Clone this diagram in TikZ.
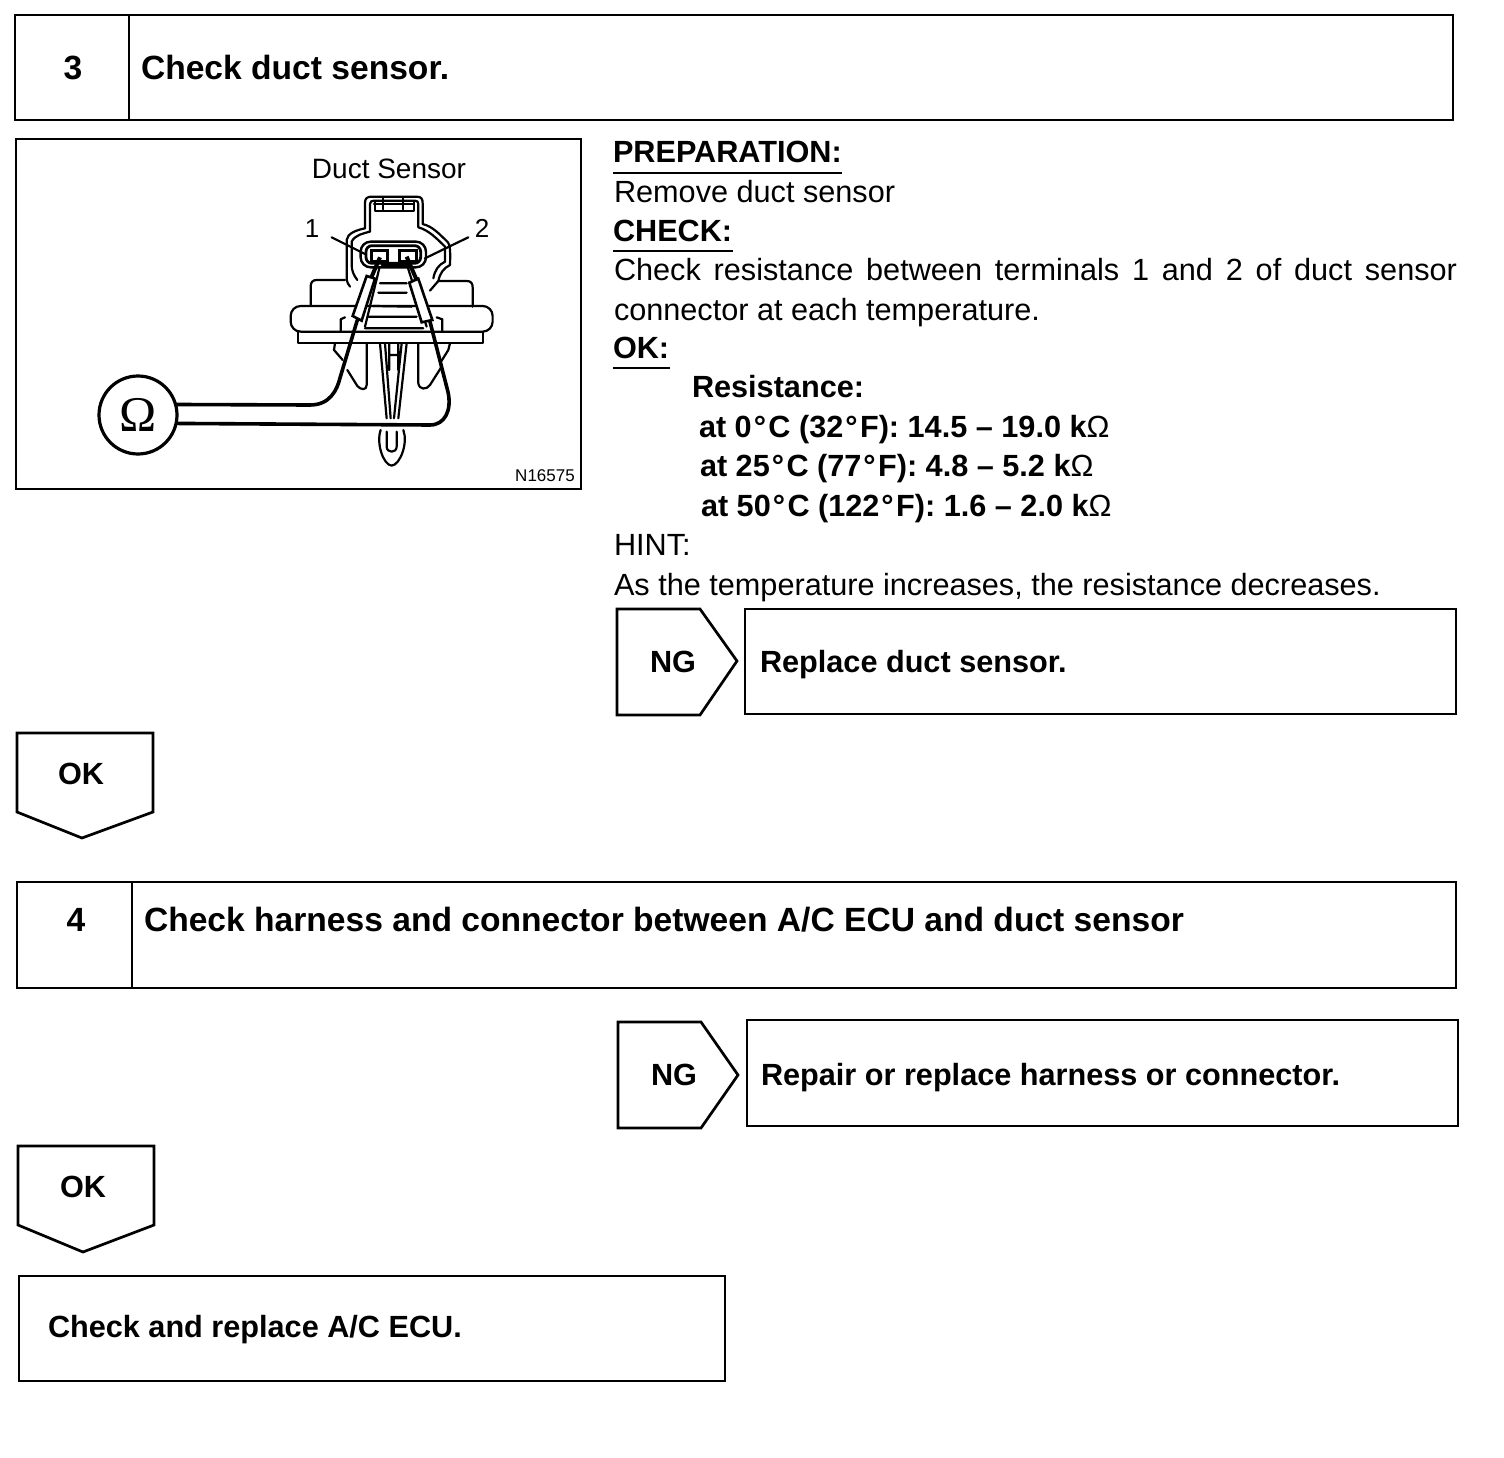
\documentclass[tikz,border=0pt]{standalone}
\usepackage{fontspec}
\setmainfont{Liberation Sans}
\newfontfamily\omegafont{Liberation Serif}
\newcommand{\szA}{\fontsize{30.65}{36}\selectfont}
\newcommand{\szB}{\fontsize{33.6}{40}\selectfont\bfseries}
\newcommand{\dg}{\kern2pt°\kern2.4pt}
\tikzset{
  frame/.style={draw=black,line width=2.7pt,line join=miter},
  txt/.style={anchor=base west,inner sep=0pt,outer sep=0pt,font=\szA,text=black},
  btxt/.style={txt,font=\szA\bfseries},
  htxt/.style={txt,font=\szB},
  rule/.style={line width=2pt},
  thin line/.style={line width=2.2pt,line cap=round,line join=round},
  wire/.style={line width=3.6pt,line cap=round,line join=round},
}
\begin{document}
\begin{tikzpicture}[x=1pt,y=-1pt]
\useasboundingbox (0,0) rectangle (1504,1458);
\fill[white] (0,0) rectangle (1504,1458);
% step 3
\draw[frame] (15,15) rectangle (1453,120);
\draw[frame] (129,15) -- (129,120);
\node[htxt,anchor=base] (n3) at (73,80) {3};
\node[htxt] (t3) at (141,80) {Check duct sensor.};
% figure
\draw[frame] (16,139) rectangle (581,489);
\node[txt,anchor=base,font=\fontsize{28}{34}\selectfont] (ds) at (389,179) {Duct Sensor};
\node[txt,anchor=base,font=\fontsize{26}{32}\selectfont] (l1) at (312,237) {1};
\node[txt,anchor=base,font=\fontsize{26}{32}\selectfont] (l2) at (482,237) {2};
\node[txt,anchor=base,font=\fontsize{17}{20}\selectfont] (code) at (545,481) {N16575};
\node[circle,draw,line width=3.2pt,minimum size=78pt,inner sep=0pt,font=\omegafont\fontsize{50}{54}\selectfont] (omega) at (138,415) {Ω};
\begin{scope}[xshift=270pt,yshift=-180pt,x=0.3333pt,y=-0.3333pt]
  \draw[thin line] (240,320) .. controls (228,305) and (230,295) .. (230,285) -- (230,180) .. controls (232,160) and (260,150) .. (285,145) -- (285,68) .. controls (285,55) and (292,50) .. (305,50) -- (440,50) .. controls (455,50) and (458,58) .. (458,70) -- (458,132) .. controls (490,140) and (510,165) .. (525,178) .. controls (540,190) and (542,200) .. (540,255) .. controls (520,265) and (510,280) .. (505,303) -- (480,332);
  \draw[thin line] (262,300) .. controls (250,285) and (245,270) .. (245,255) -- (245,185) .. controls (255,165) and (280,160) .. (300,155) -- (300,72) .. controls (300,65) and (305,62) .. (312,62) -- (435,62) .. controls (442,62) and (445,66) .. (445,72) -- (445,142) .. controls (475,150) and (500,175) .. (525,200) -- (525,245) .. controls (505,255) and (495,270) .. (490,295);
  \draw[thin line] (340,52) -- (340,88) (400,52) -- (400,88) (315,66) -- (315,92) -- (432,92) -- (432,66) (312,72) -- (432,72);
  \draw[line width=2.4pt,rounded corners=10pt] (272,185) rectangle (468,262);
  \draw[line width=2.8pt,rounded corners=6pt] (288,197) rectangle (452,250);
  \draw[line width=3.6pt,fill=white] (305,212) rectangle (352,244);
  \draw[line width=3.6pt,fill=white] (388,212) rectangle (440,244);
  \draw[thin line] (335,255) -- (420,255);
  \draw[thin line] (225,300) -- (140,300) .. controls (127,300) and (122,308) .. (122,320) -- (122,378);
  \draw[thin line] (505,303) -- (590,303) .. controls (603,303) and (608,310) .. (608,322) -- (608,380);
  \draw[thin line,rounded corners=10pt] (62,378) rectangle (668,455);
  \draw[thin line] (85,455) -- (85,488) -- (640,488) -- (640,455);
  \draw[thin line] (225,412) -- (212,418) -- (212,452) (500,412) -- (517,418) -- (517,452);
  \draw[thin line] (330,310) -- (410,310) (325,338) -- (410,338) (310,378) -- (425,380) (295,410) -- (440,410) (285,445) -- (460,445);
  \draw[thin line] (328,265) -- (285,440) (412,258) -- (470,440);
  % clips
  \draw[thin line] (195,490) -- (192,510) -- (218,540) (232,570) -- (262,618) .. controls (272,630) and (290,632) .. (290,615) -- (290,490);
  \draw[thin line] (445,490) -- (445,610) .. controls (448,630) and (470,630) .. (480,615) -- (515,560) (540,490) -- (535,510) -- (510,550);
  % stem
  \draw[thin line] (330,490) -- (350,715) (345,490) -- (362,715) (410,490) -- (385,715) (395,490) -- (372,715) (358,490) -- (358,570) (385,490) -- (385,570) (358,525) -- (385,525);
  \draw[thin line] (332,750) .. controls (318,790) and (340,855) .. (365,857) .. controls (390,855) and (415,790) .. (400,750);
  \draw[thin line] (350,755) -- (350,800) .. controls (350,820) and (380,820) .. (380,800) -- (380,755);
  % probes
  \draw[line width=2.6pt,fill=white] (290,288) -- (315,296) -- (275,422) -- (248,408) -- cycle;
  \draw[line width=2.6pt,fill=white] (418,308) -- (445,296) -- (487,420) -- (455,427) -- cycle;
  \draw[line width=4pt] (330,232) -- (305,290) (410,230) -- (440,300);
  % leader lines
  \draw[thin line] (185,172) -- (285,222) (595,172) -- (465,235);
  \coordinate (p1) at (262,420);
  \coordinate (p2) at (480,425);
\end{scope}
\draw[wire] (omega.15) -- (310,405) .. controls (330,405) and (337,390) .. (340,378) -- (p1);
\draw[wire] (omega.-12) -- (430,425) .. controls (445,425) and (452,410) .. (448,392) -- (p2);
% text right
\node[btxt] (prep) at (613,163) {PREPARATION:};
\draw[rule] (613,173) -- (842,173);
\node[txt] (rem) at (614,203) {Remove duct sensor};
\node[btxt] (chk) at (613,241) {CHECK:};
\draw[rule] (613,251) -- (733,251);
\node[txt] (c1) at (614,280) {\hbox to 843pt{Check\hfill resistance\hfill between\hfill terminals\hfill 1\hfill and\hfill 2\hfill of\hfill duct\hfill sensor}};
\node[txt] (c2) at (614,320) {connector at each temperature.};
\node[btxt] (okh) at (613,358) {OK:};
\draw[rule] (613,368) -- (670,368);
\node[btxt] (res) at (692,397) {Resistance:};
\node[btxt] (r0) at (699,437) {at 0\dg C (32\dg F): 14.5 – 19.0 k{\mdseries Ω}};
\node[btxt] (r1) at (700,476) {at 25\dg C (77\dg F): 4.8 – 5.2 k{\mdseries Ω}};
\node[btxt] (r2) at (701,516) {at 50\dg C (122\dg F): 1.6 – 2.0 k{\mdseries Ω}};
\node[txt] (hint) at (614,555) {HINT:};
\node[txt] (h2) at (614,595) {As the temperature increases, the resistance decreases.};
% NG 1
\draw[frame] (617,609) -- (700,609) -- (737,661) -- (700,715) -- (617,715) -- cycle;
\node[btxt] (ng1) at (650,672) {NG};
\draw[frame] (745,609) rectangle (1456,714);
\node[btxt] (a1) at (760,672) {Replace duct sensor.};
% OK 1
\draw[frame] (17,733) -- (153,733) -- (153,812) -- (82,838) -- (17,812) -- cycle;
\node[btxt] (ok1) at (58,784) {OK};
% step 4
\draw[frame] (17,882) rectangle (1456,988);
\draw[frame] (132,882) -- (132,988);
\node[htxt,anchor=base] (n4) at (76,931) {4};
\node[htxt] (t4) at (144,931) {Check harness and connector between A/C ECU and duct sensor};
% NG 2
\draw[frame] (618,1022) -- (701,1022) -- (738,1075) -- (701,1128) -- (618,1128) -- cycle;
\node[btxt] (ng2) at (651,1085) {NG};
\draw[frame] (747,1020) rectangle (1458,1126);
\node[btxt] (a2) at (761,1085) {Repair or replace harness or connector.};
% OK 2
\draw[frame] (18,1146) -- (154,1146) -- (154,1225) -- (83,1252) -- (18,1225) -- cycle;
\node[btxt] (ok2) at (60,1197) {OK};
% end
\draw[frame] (19,1276) rectangle (725,1381);
\node[btxt] (e) at (48,1337) {Check and replace A/C ECU.};
\end{tikzpicture}
\end{document}
